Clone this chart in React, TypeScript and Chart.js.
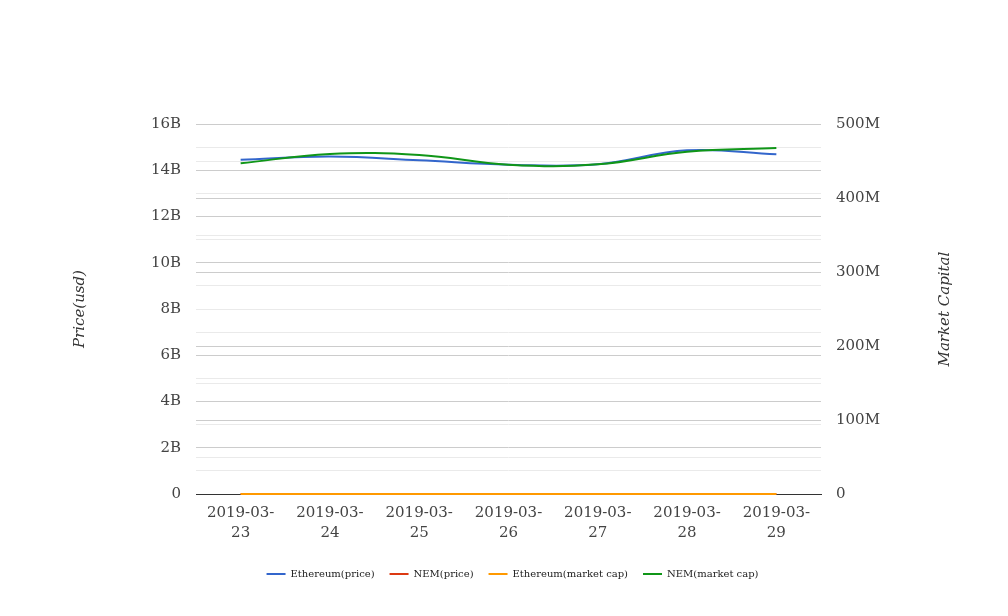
import React, { useEffect, useRef } from "react";
import { Chart, registerables } from "chart.js";

Chart.register(...registerables);

const categories: string[][] = [
  ["2019-03-", "23"],
  ["2019-03-", "24"],
  ["2019-03-", "25"],
  ["2019-03-", "26"],
  ["2019-03-", "27"],
  ["2019-03-", "28"],
  ["2019-03-", "29"],
];

const ethereumPrice = [14.45e9, 14.59e9, 14.43e9, 14.24e9, 14.26e9, 14.86e9, 14.69e9];
const nemPrice = [0.052, 0.053, 0.053, 0.052, 0.052, 0.053, 0.054];
const ethereumMarketCap = [137, 138, 137, 135, 135, 139, 138];
const nemMarketCap = [446.9e6, 459.5e6, 458.1e6, 445.0e6, 445.5e6, 462.6e6, 467.6e6];

const leftMin = 0;
const leftMax = 16e9;
const leftStep = 1e9;
const rightMin = 0;
const rightMax = 500e6;
const rightStep = 50e6;

const rightTitle = "Market Capital";

const FONT = "'DejaVu Serif', serif";

const rightTitlePlugin = {
  id: "rightTitle",
  afterDraw(chart: any) {
    const { ctx, chartArea } = chart;
    ctx.save();
    ctx.translate(945, (chartArea.top + chartArea.bottom) / 2);
    ctx.rotate(-Math.PI / 2);
    ctx.font = "italic 15px " + FONT;
    ctx.fillStyle = "#333";
    ctx.textAlign = "center";
    ctx.textBaseline = "middle";
    ctx.fillText(rightTitle, 0, 0);
    ctx.restore();
  },
};

export default function App() {
  const ref = useRef<HTMLCanvasElement | null>(null);

  useEffect(() => {
    document.body.style.margin = "0";
    const canvas = ref.current;
    if (!canvas) return;
    const gridColor = (major: number) => (ctx: any) => {
      const v = ctx.tick ? ctx.tick.value : 0;
      if (v === 0) return "#333333";
      return Math.round(v / major) * major === v ? "#cccccc" : "#eaeaea";
    };
    const chart = new Chart(canvas, {
      type: "line",
      plugins: [rightTitlePlugin],
      data: {
        labels: categories,
        datasets: [
          {
            label: "Ethereum(price)",
            data: ethereumPrice,
            borderColor: "#3366cc",
            backgroundColor: "#3366cc",
            borderWidth: 2,
            yAxisID: "y",
            order: 3,
            clip: 3,
          },
          {
            label: "NEM(price)",
            data: nemPrice,
            borderColor: "#dc3912",
            backgroundColor: "#dc3912",
            borderWidth: 2,
            yAxisID: "y1",
            order: 4,
            clip: 3,
          },
          {
            label: "Ethereum(market cap)",
            data: ethereumMarketCap,
            borderColor: "#ff9900",
            backgroundColor: "#ff9900",
            borderWidth: 2,
            yAxisID: "y",
            order: 2,
            clip: 3,
          },
          {
            label: "NEM(market cap)",
            data: nemMarketCap,
            borderColor: "#109618",
            backgroundColor: "#109618",
            borderWidth: 2,
            yAxisID: "y1",
            order: 1,
            clip: 3,
          },
        ],
      },
      options: {
        responsive: false,
        animation: false,
        font: { family: FONT },
        layout: { padding: { top: 124, left: 67, right: 50, bottom: 27 } },
        elements: {
          line: { tension: 0.4, borderWidth: 2, fill: false },
          point: { radius: 0, hoverRadius: 0 },
        },
        plugins: {
          tooltip: { enabled: false },
          legend: {
            position: "bottom",
            labels: {
              font: { family: FONT, size: 10 },
              color: "#222",
              usePointStyle: true,
              pointStyle: "line",
              pointStyleWidth: 19,
              padding: 15,
              sort: (a: any, b: any) => a.datasetIndex - b.datasetIndex,
            },
          },
        },
        scales: {
          x: {
            type: "category",
            offset: true,
            grid: { display: false },
            border: { display: true, color: "#333333", width: 1 },
            ticks: {
              font: { family: FONT, size: 15, lineHeight: 1.33 },
              color: "#444",
              padding: 1,
              maxRotation: 0,
              autoSkip: false,
            },
            afterFit: (scale: any) => {
              scale.height += 10;
            },
          },
          y: {
            position: "left",
            min: leftMin,
            max: leftMax,
            border: { display: false },
            grid: { drawTicks: false, color: gridColor(2e9) },
            ticks: {
              stepSize: leftStep,
              autoSkip: false,
              padding: 15,
              color: "#444",
              font: { family: FONT, size: 15 },
              callback: (v: any) => {
                const n = Number(v);
                if (n === 0) return "0";
                if (n % 2e9 !== 0) return "";
                return n / 1e9 + "B";
              },
            },
            title: {
              display: true,
              text: "Price(usd)",
              color: "#333",
              font: { family: FONT, size: 15, style: "italic" },
            },
            afterFit: (scale: any) => {
              scale.width = 129;
            },
          },
          y1: {
            position: "right",
            min: rightMin,
            max: rightMax,
            border: { display: false },
            grid: { drawTicks: false, color: gridColor(100e6) },
            ticks: {
              stepSize: rightStep,
              autoSkip: false,
              padding: 15,
              color: "#444",
              font: { family: FONT, size: 15 },
              callback: (v: any) => {
                const n = Number(v);
                if (n === 0) return "0";
                if (n % 100e6 !== 0) return "";
                return n / 1e6 + "M";
              },
            },
            afterFit: (scale: any) => {
              scale.width = 137;
            },
          },
        },
      } as any,
    });
    return () => chart.destroy();
  }, []);

  return (
    <div style={{ position: "fixed", left: 0, top: 0, width: 1008, height: 616 }}>
      <canvas ref={ref} width={1008} height={616} />
    </div>
  );
}
